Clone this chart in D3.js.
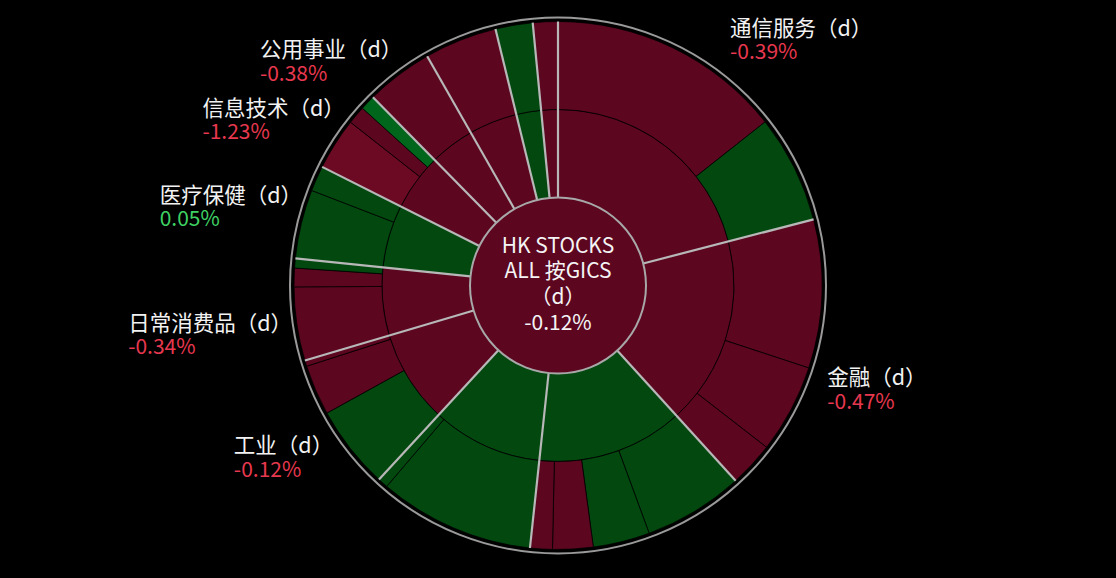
<!DOCTYPE html>
<html><head><meta charset="utf-8">
<script src="https://cdn.jsdelivr.net/npm/d3@7"></script>
<style>html,body{margin:0;padding:0;background:#000;overflow:hidden}</style>
</head><body><svg id="chart" width="1116" height="578"></svg>
<script>
// ---- data ----
const rootLines = ["HK STOCKS", "ALL 按GICS", "（d）"];
const rootChange = -0.12;
const sectorNames = ["通信服务", "金融", null, null, "工业", "日常消费品", "医疗保健", "信息技术", "公用事业", null, null, null];
const sectorChanges = [-0.39, -0.47, 0.21, 0.35, -0.12, -0.34, 0.05, -1.23, -0.38, -0.52, 0.64, -0.18];
const childWeights = [
  [51.7, 23.8],
  [32.7, 19.6, 9.9],
  [22.1, 12.5, 8.9, 4.9],
  [34.35, 2.25],
  [18.4, 11.1, 1.3],
  [16.2, 4.1, 2.1],
  [15.2, 5.6],
  [11.5, 4.0, 3.3],
  [14.8],
  [16.0],
  [8.2],
  [5.5]
];
const childChanges = [
  [-0.45, 0.32],
  [-0.52, -0.41, -0.48],
  [0.25, 0.40, -0.30, -0.20],
  [0.38, 0.15],
  [0.60, -0.70, -0.40],
  [-0.40, -0.30, 0.20],
  [0.10, 0.05],
  [-2.40, -0.60, 2.50],
  [-0.38],
  [-0.52],
  [0.64],
  [-0.18]
];

// ---- chart ----
const W = 1116, H = 578, cx = 558, cy = 285.5;
const FONT = "'Noto Sans CJK SC', 'Noto Sans', sans-serif";
const svg = d3.select("#chart");
svg.append("rect").attr("width", W).attr("height", H).attr("fill", "#000");

const color = d3.scaleThreshold().domain([-2, 0, 2])
  .range(["#6c0a24", "#5c0620", "#02480f", "#00661b"]);

const data = {
  name: "root", change: rootChange,
  children: sectorNames.map((n, i) => ({
    name: n, change: sectorChanges[i],
    children: childWeights[i].map((w, j) => ({ value: w, change: childChanges[i][j] }))
  }))
};
const root = d3.hierarchy(data).sum(d => d.value || 0);
d3.partition().size([2 * Math.PI, 3])(root);

const rScale = d3.scaleLinear().domain([0, 1, 2, 3]).range([0, 88, 176, 264]);
const arc = d3.arc()
  .startAngle(d => d.x0).endAngle(d => d.x1)
  .innerRadius(d => rScale(d.y0)).outerRadius(d => rScale(d.y1));

const g = svg.append("g").attr("transform", `translate(${cx},${cy})`);

g.selectAll("path.node")
  .data(root.descendants().filter(d => d.depth > 0))
  .join("path")
  .attr("class", "node")
  .attr("d", arc)
  .attr("fill", d => color(d.data.change))
  .attr("stroke", "rgba(0,0,0,0.75)")
  .attr("stroke-width", 1);

// sector separators
const sectors = root.children;
g.selectAll("line.sep")
  .data(sectors)
  .join("line")
  .attr("class", "sep")
  .attr("x1", d => Math.sin(d.x0) * rScale(1))
  .attr("y1", d => -Math.cos(d.x0) * rScale(1))
  .attr("x2", d => Math.sin(d.x0) * rScale(3))
  .attr("y2", d => -Math.cos(d.x0) * rScale(3))
  .attr("stroke", "#b8b8b8")
  .attr("stroke-width", 2.2);

// center
g.append("circle").attr("r", rScale(1)).attr("fill", color(rootChange))
  .attr("stroke", "#a8a8a8").attr("stroke-width", 2);

// outer ring
g.append("circle").attr("r", 268).attr("fill", "none")
  .attr("stroke", "#9a9a9a").attr("stroke-width", 2);

const fmt = v => v.toFixed(2) + "%";
const centerLines = rootLines.concat([fmt(rootChange)]);
g.selectAll("text.center")
  .data(centerLines)
  .join("text")
  .attr("class", "center")
  .attr("x", 0)
  .attr("y", (d, i) => -40.5 + i * 25.8 + 7.5)
  .attr("text-anchor", "middle")
  .attr("font-family", FONT)
  .attr("font-size", 21)
  .attr("fill", "#f4f4f4")
  .text(d => d);

// labels
const labelR = 281, fsName = 21.5, fsVal = 21, lineGap = 23.5;
const posColor = "#3fd164", negColor = "#e8384f";
sectors.filter(d => d.data.name).forEach(d => {
  const a = (d.x0 + d.x1) / 2;
  const ax = Math.sin(a) * labelR, ay = -Math.cos(a) * labelR;
  const lg = g.append("g");
  const t1 = lg.append("text").attr("font-family", FONT).attr("font-size", fsName)
    .attr("fill", "#f2f2f2").text(d.data.name + "（d）");
  const t2 = lg.append("text").attr("font-family", FONT).attr("font-size", fsVal)
    .attr("fill", d.data.change >= 0 ? posColor : negColor).text(fmt(d.data.change));
  const w1 = t1.node().getComputedTextLength() - 0.64 * fsName; // visible width (fullwidth paren blank)
  const w2 = t2.node().getComputedTextLength();
  const right = Math.sin(a) >= 0;
  const left = right ? ax : ax - w1;
  let nameC;
  if (ay > 0) {
    nameC = ay + lineGap / 2;
  } else {
    nameC = ay - lineGap / 2;
    const hit = (x, y) => Math.hypot(x, y) < 272;
    const half = 11.5;
    const collides = c => {
      const pts = [[left, c - half], [left + w1, c - half], [left, c + half], [left + w1, c + half],
        [left, c + lineGap - half], [left + w2, c + lineGap - half], [left, c + lineGap + half], [left + w2, c + lineGap + half]];
      return pts.some(p => hit(p[0], p[1]));
    };
    if (collides(nameC)) nameC -= lineGap;
  }
  t1.attr("x", left).attr("y", nameC + 0.36 * fsName);
  t2.attr("x", left).attr("y", nameC + lineGap + 0.36 * fsVal);
});
</script>
</body></html>
